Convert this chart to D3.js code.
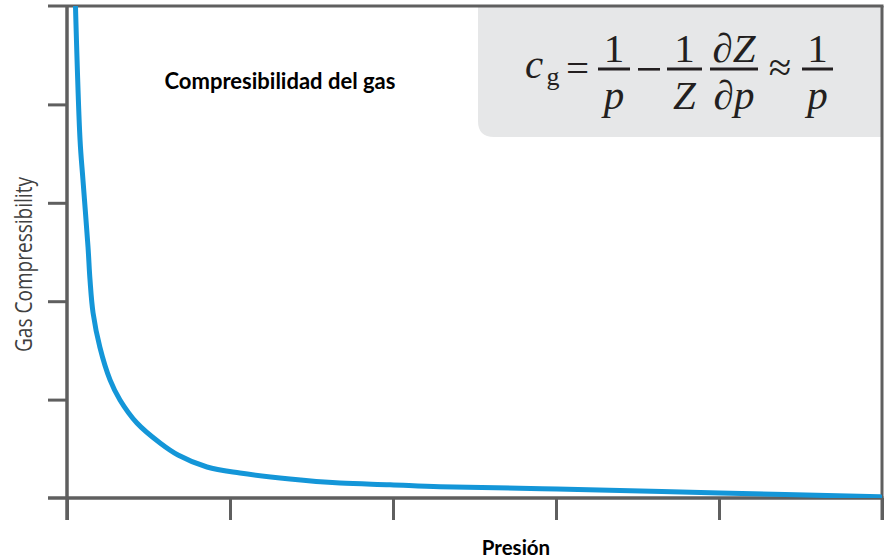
<!DOCTYPE html>
<html><head><meta charset="utf-8">
<script src="https://cdn.jsdelivr.net/npm/d3@7/dist/d3.min.js"></script>
<style>body{margin:0;background:#fff}svg{display:block}
.math{font-family:"Liberation Serif","DejaVu Serif",serif;}</style>
</head><body>
<svg id="chart" width="887" height="559"></svg>
<script>
// Data (pressure, arbitrary units)
const pressure = [0.052, 0.080, 0.098, 0.129, 0.141, 0.160, 0.202, 0.264, 0.325, 0.429, 0.571, 0.681, 0.859, 1.061, 1.368, 1.675, 1.982, 2.288, 3.006, 4.006, 4.988];
const compressibility = [5.0, 3.64, 3.23, 2.55, 2.22, 1.88, 1.53, 1.20, 0.996, 0.762, 0.559, 0.437, 0.315, 0.254, 0.193, 0.152, 0.135, 0.115, 0.091, 0.051, 0.012];
const xTicks = [0, 1, 2, 3, 4, 5];
const yTicks = [1, 2, 3, 4];
const title = "Compresibilidad del gas";
const xLabel = "Presión";
const yLabel = "Gas Compressibility";

const svg = d3.select("#chart");
const mLeft = 67, mRight = 882, mTop = 6, mBottom = 498;
const x = d3.scaleLinear().domain([0, 5]).range([mLeft, mRight]);
const y = d3.scaleLinear().domain([0, 5]).range([mBottom, mTop]);
const axisColor = "#5f5f5f";

// formula box
const bx0 = 478, by1 = 137, rr = 16;
svg.append("path")
  .attr("d", `M${bx0},${y(5)} L${x(5)},${y(5)} L${x(5)},${by1} L${bx0 + rr},${by1} Q${bx0},${by1} ${bx0},${by1 - rr} Z`)
  .attr("fill", "#e6e7e8");

// y axis ticks
svg.append("g").attr("transform", `translate(${x(0)},0)`)
  .call(d3.axisLeft(y).tickValues(yTicks).tickSize(19).tickFormat(""))
  .call(g => g.select(".domain").remove())
  .call(g => g.selectAll("line").attr("stroke", axisColor).attr("stroke-width", 3));

// x axis ticks
svg.append("g").attr("transform", `translate(0,${y(0)})`)
  .call(d3.axisBottom(x).tickValues(xTicks).tickSize(22).tickFormat(""))
  .call(g => g.select(".domain").remove())
  .call(g => g.selectAll("line").attr("stroke", axisColor).attr("stroke-width", 3));

// frame lines
const frame = svg.append("g").attr("stroke", axisColor).attr("fill", "none");
frame.append("line").attr("x1", x(0) - 19).attr("x2", x(5) + 1.5).attr("y1", y(5)).attr("y2", y(5)).attr("stroke-width", 3);
frame.append("line").attr("x1", x(5)).attr("x2", x(5)).attr("y1", y(5)).attr("y2", y(0) + 22).attr("stroke-width", 3);
frame.append("line").attr("x1", x(0)).attr("x2", x(0)).attr("y1", y(5)).attr("y2", y(0) + 22).attr("stroke-width", 3.5);
frame.append("line").attr("x1", x(0) - 19).attr("x2", x(5) + 1.5).attr("y1", y(0)).attr("y2", y(0)).attr("stroke-width", 3.5);

// curve
svg.append("defs").append("clipPath").attr("id", "clip")
  .append("rect").attr("x", x(0)).attr("y", y(5)).attr("width", x(5) - x(0)).attr("height", y(0) - y(5));
const pts = pressure.map((p, i) => [p, compressibility[i]]);
svg.append("path").datum(pts)
  .attr("clip-path", "url(#clip)")
  .attr("fill", "none").attr("stroke", "#1496d8").attr("stroke-width", 5).attr("stroke-linecap", "round")
  .attr("d", d3.line().x(d => x(d[0])).y(d => y(d[1])).curve(d3.curveCatmullRom.alpha(0.5)));

// title
svg.append("text").attr("x", 280).attr("y", 89).attr("text-anchor", "middle")
  .attr("font-family", "Lato, 'Open Sans', sans-serif").attr("font-weight", 700).attr("font-size", 22)
  .attr("fill", "#000").text(title);

// axis labels
svg.append("text").attr("x", 516).attr("y", 555).attr("text-anchor", "middle")
  .attr("font-family", "Lato, 'Open Sans', sans-serif").attr("font-weight", 700).attr("font-size", 20.5)
  .attr("fill", "#000").text(xLabel);
svg.append("text").attr("transform", "translate(32,264.5) rotate(-90)").attr("text-anchor", "middle")
  .attr("font-family", "'Open Sans', sans-serif").attr("font-size", 23)
  .attr("textLength", 175).attr("lengthAdjust", "spacingAndGlyphs")
  .attr("fill", "#404040").text(yLabel);

// formula
const f = svg.append("g").attr("fill", "#231f20");
const fs = 41;
const T = () => f.append("text").attr("class", "math").attr("text-anchor", "middle");
T().attr("x", 534).attr("y", 78).attr("font-size", fs).attr("font-style", "italic").text("c");
T().attr("x", 553).attr("y", 85).attr("font-size", 26).text("g");
T().attr("x", 577.5).attr("y", 82).attr("font-size", fs).text("=");
f.append("rect").attr("x", 638).attr("y", 68).attr("width", 22).attr("height", 2.6); // minus sign
T().attr("x", 780).attr("y", 81).attr("font-size", fs).text("≈");
const fracs = [
  {c: 614, w: 32, num: "1", den: "p"},
  {c: 684.5, w: 35, num: "1", den: "Z"},
  {c: 734, w: 48, num: "∂Z", den: "∂p"},
  {c: 817.5, w: 31, num: "1", den: "p"}
];
fracs.forEach(fr => {
  f.append("rect").attr("x", fr.c - fr.w / 2).attr("y", 67.5).attr("width", fr.w).attr("height", 3);
  const n = T().attr("x", fr.c).attr("y", 62).attr("font-size", fs);
  if (fr.num.startsWith("∂")) { n.append("tspan").text("∂"); n.append("tspan").attr("font-style", "italic").text(fr.num.slice(1)); }
  else n.text(fr.num);
  const d = T().attr("x", fr.c).attr("y", 109).attr("font-size", fs);
  if (fr.den.startsWith("∂")) { d.append("tspan").text("∂"); d.append("tspan").attr("font-style", "italic").text(fr.den.slice(1)); }
  else d.attr("font-style", "italic").text(fr.den);
});
</script>
</body></html>
